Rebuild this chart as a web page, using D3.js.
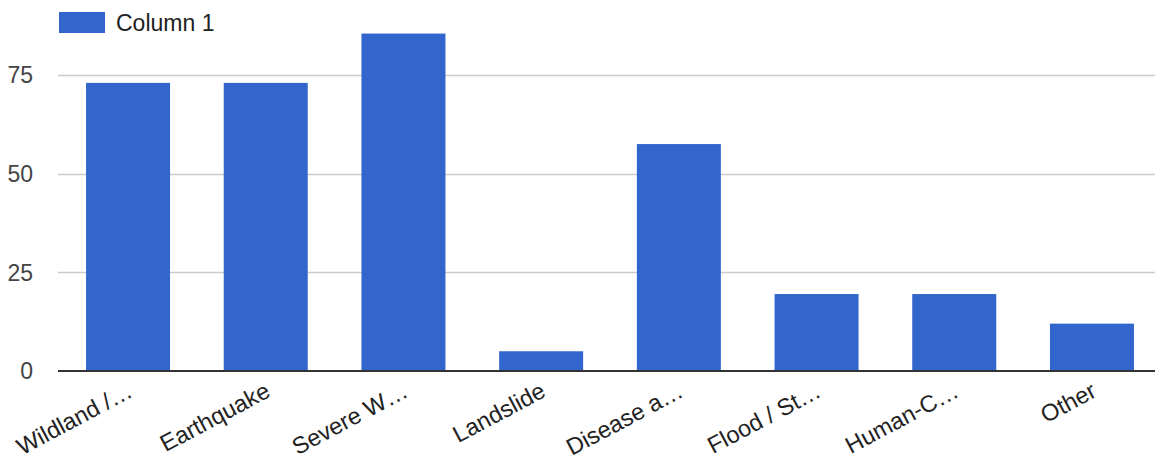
<!DOCTYPE html>
<html><head><meta charset="utf-8">
<script src="https://cdn.jsdelivr.net/npm/d3@7"></script>
<style>body{margin:0;background:#fff}svg{display:block;font-family:Arial,"Liberation Sans",sans-serif}</style>
</head><body><svg id="c" width="1155" height="460"></svg>
<script>
const categories = ["Wildland /…","Earthquake","Severe W…","Landslide","Disease a…","Flood / St…","Human-C…","Other"];
const values = [73, 73, 85.5, 5, 57.5, 19.5, 19.5, 12];
const yTicks = [0, 25, 50, 75];
const seriesName = "Column 1";

const svg = d3.select("#c");
const W = 1155;
const left = 58, bottom = 371;
const y = d3.scaleLinear().domain([0, 75]).range([bottom, 75]);
const x = d3.scaleBand().domain(categories).range([59.2, 1160.8]).paddingInner(0.39).paddingOuter(0.195);

// gridlines
svg.append("g").selectAll("line").data(yTicks.filter(d => d !== 0)).join("line")
  .attr("x1", left).attr("x2", W).attr("y1", d => Math.round(y(d)) + 0.5).attr("y2", d => Math.round(y(d)) + 0.5)
  .attr("stroke", "#cccccc").attr("stroke-width", 1.5);

// y labels
svg.append("g").selectAll("text").data(yTicks).join("text")
  .attr("x", 33).attr("y", d => y(d)).attr("dy", "0.36em")
  .attr("text-anchor", "end").attr("font-size", 23).attr("fill", "#444")
  .text(d => d);

// bars
svg.append("g").selectAll("rect").data(values).join("rect")
  .attr("x", (d, i) => x(categories[i])).attr("width", x.bandwidth())
  .attr("y", d => y(d)).attr("height", d => y(0) - y(d))
  .attr("fill", "#3366cc");

// baseline
svg.append("line").attr("x1", left).attr("x2", W).attr("y1", y(0)).attr("y2", y(0))
  .attr("stroke", "#333").attr("stroke-width", 2);

// x labels
svg.append("g").selectAll("text").data(categories).join("text")
  .attr("transform", d => `translate(${x(d) + x.bandwidth() / 2 - 2},${381}) rotate(-28)`)
  .attr("text-anchor", "end").attr("dy", "0.72em").attr("font-size", 23.5).attr("fill", "#222")
  .text(d => d);

// legend
const lg = svg.append("g");
lg.append("rect").attr("x", 59).attr("y", 12).attr("width", 46).attr("height", 21).attr("fill", "#3366cc");
lg.append("text").attr("x", 116).attr("y", 31).attr("font-size", 23).attr("fill", "#222").text(seriesName);
</script></body></html>
